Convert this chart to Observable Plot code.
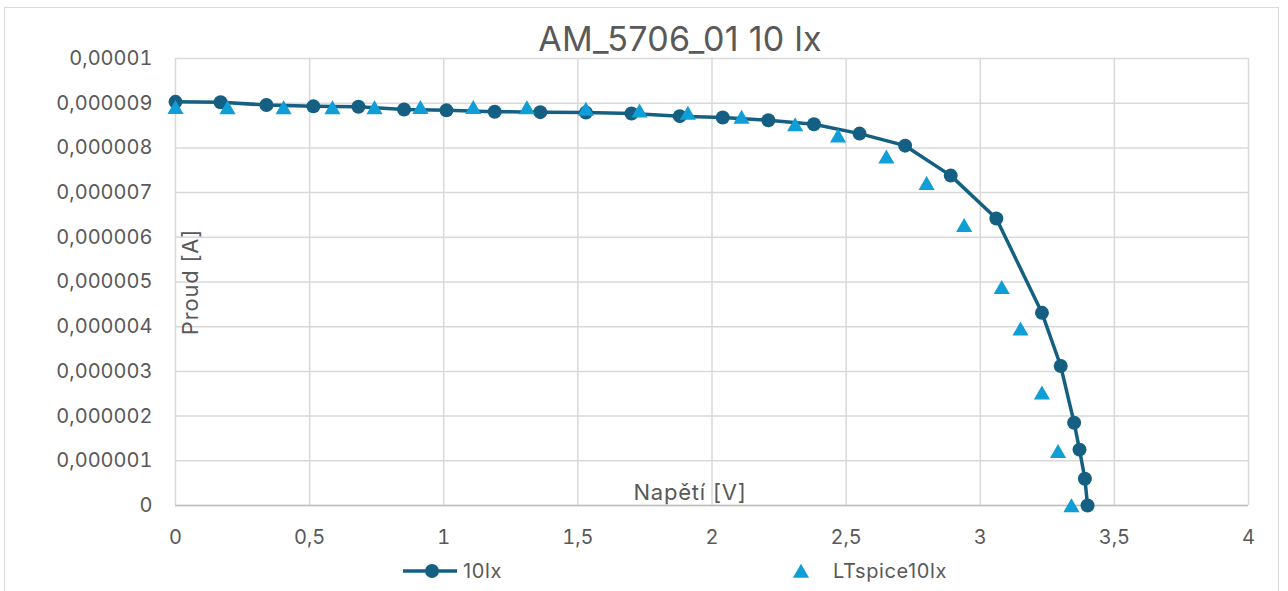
<!DOCTYPE html>
<html>
<head>
<meta charset="utf-8">
<script src="https://cdn.jsdelivr.net/npm/d3@7"></script>
<script src="https://cdn.jsdelivr.net/npm/@observablehq/plot@0.6"></script>
<style>
  html, body { margin: 0; padding: 0; background: #fff; }
  #chart { position: relative; width: 1288px; height: 591px; overflow: hidden; background: #fff;
           font-family: Inter, "Open Sans", sans-serif; color: #595959; }
  #frame { position: absolute; left: 4px; top: 7px; width: 1273px; height: 620px; border: 1.5px solid #d9d9d9; }
  #title { position: absolute; left: 680px; top: 22px; transform: translateX(-50%); font-size: 34px; line-height: 34px; white-space: nowrap; letter-spacing: 0.3px; }
  #plot { position: absolute; left: 0; top: 40px; }
  .leg { position: absolute; top: 558px; height: 26px; display: flex; align-items: center; font-size: 20px; letter-spacing: 0.6px; white-space: nowrap; }
</style>
</head>
<body>
<div id="chart">
  <div id="frame"></div>
  <div id="title"></div>
  <div id="plot"></div>
  <div class="leg" id="leg1"></div>
  <div class="leg" id="leg2"></div>
</div>
<script>
// ---- data ----
const chartTitle = "AM_5706_01 10 lx";
const xLabel = "Napětí [V]";
const yLabel = "Proud [A]";
const seriesNames = ["10lx", "LTspice10lx"];

// measured series "10lx": voltage [V], current [A]
const voltage10lx = [0, 0.168, 0.339, 0.514, 0.682, 0.852, 1.01, 1.19, 1.36, 1.53, 1.70, 1.88, 2.04, 2.21, 2.38, 2.55, 2.72, 2.89, 3.06, 3.23, 3.30, 3.35, 3.37, 3.39, 3.40];
const current10lx = [9.03e-6, 9.02e-6, 8.96e-6, 8.93e-6, 8.92e-6, 8.86e-6, 8.84e-6, 8.81e-6, 8.80e-6, 8.79e-6, 8.77e-6, 8.71e-6, 8.68e-6, 8.62e-6, 8.53e-6, 8.32e-6, 8.05e-6, 7.38e-6, 6.42e-6, 4.31e-6, 3.12e-6, 1.85e-6, 1.25e-6, 0.60e-6, 0];

// simulated series "LTspice10lx"
const voltageLT = [0, 0.194, 0.403, 0.585, 0.742, 0.913, 1.11, 1.31, 1.53, 1.73, 1.91, 2.11, 2.31, 2.47, 2.65, 2.80, 2.94, 3.08, 3.15, 3.23, 3.29, 3.34];
const currentLT = [8.91e-6, 8.90e-6, 8.90e-6, 8.90e-6, 8.90e-6, 8.91e-6, 8.91e-6, 8.90e-6, 8.87e-6, 8.83e-6, 8.78e-6, 8.69e-6, 8.52e-6, 8.27e-6, 7.80e-6, 7.21e-6, 6.27e-6, 4.88e-6, 3.95e-6, 2.52e-6, 1.21e-6, 0];

// tick values
const xTicks = [0, 0.5, 1, 1.5, 2, 2.5, 3, 3.5, 4];
const yTicks = [0, 1e-6, 2e-6, 3e-6, 4e-6, 5e-6, 6e-6, 7e-6, 8e-6, 9e-6, 1e-5];

// ---- build ----
const colMeas = "#156082";
const colLT = "#0F9ED5";
const measured = voltage10lx.map((v, i) => ({v, i: current10lx[i]}));
const simulated = voltageLT.map((v, i) => ({v, i: currentLT[i]}));

const czFmt = (d, digits) => {
  let s = d.toFixed(digits);
  if (s.includes(".")) s = s.replace(/0+$/, "").replace(/\.$/, "");
  return s.replace(".", ",");
};

document.getElementById("title").textContent = chartTitle;

const fontFamily = "Inter, 'Open Sans', sans-serif";
const plot = Plot.plot({
  width: 1288,
  height: 520,
  marginLeft: 175,
  marginRight: 40,
  marginTop: 18,
  marginBottom: 55,
  style: { fontFamily, fontSize: "20px", color: "#595959", background: "transparent", overflow: "visible" },
  x: { domain: [0, 4], label: null },
  y: { domain: [0, 1e-5], label: null },
  marks: [
    Plot.gridX(xTicks, { stroke: "#d9d9d9", strokeOpacity: 1, strokeWidth: 1.5 }),
    Plot.gridY(yTicks, { stroke: "#d9d9d9", strokeOpacity: 1, strokeWidth: 1.5 }),
    Plot.ruleY([0], { stroke: "#bfbfbf", strokeWidth: 1.5 }),
    Plot.axisX(xTicks, { tickSize: 0, tickPadding: 24, tickFormat: d => czFmt(d, 2), fontSize: 20, fill: "#595959", label: null }),
    Plot.axisY(yTicks, { tickSize: 0, tickPadding: 23, tickFormat: d => czFmt(d, 6), fontSize: 20, fill: "#595959", label: null }),
    Plot.text([yLabel], { text: d => d, frameAnchor: "left", textAnchor: "middle", lineAnchor: "middle", dx: 15, rotate: -90, fontSize: 22, fill: "#595959", style: "letter-spacing:0.6px" }),
    Plot.text([xLabel], { text: d => d, frameAnchor: "bottom", dx: -22, dy: -6, fontSize: 22, fill: "#595959" }),
    Plot.line(measured, { x: "v", y: "i", stroke: colMeas, strokeWidth: 3.5 }),
    Plot.dot(measured, { x: "v", y: "i", r: 7, fill: colMeas, stroke: "none" }),
    Plot.dot(simulated, { x: "v", y: "i", symbol: "triangle", r: 6, fill: colLT, stroke: "none", dy: 2 })
  ]
});
// slight letter spacing on axis titles, as in the reference
plot.querySelectorAll("text").forEach(t => {
  if (t.textContent === xLabel || t.textContent === yLabel) t.setAttribute("letter-spacing", "0.8");
});
document.getElementById("plot").appendChild(plot);

// legend
const leg1 = document.getElementById("leg1");
leg1.style.left = "402px";
leg1.innerHTML = `<svg width="56" height="26"><line x1="1" y1="13" x2="55" y2="13" stroke="${colMeas}" stroke-width="3.5"/><circle cx="30" cy="13" r="7" fill="${colMeas}"/></svg><span style="margin-left:5px">${seriesNames[0]}</span>`;
const leg2 = document.getElementById("leg2");
leg2.style.left = "792px";
const tri = d3.symbol(d3.symbolTriangle, Math.PI * 36)();
leg2.innerHTML = `<svg width="20" height="26"><path d="${tri}" transform="translate(9,15)" fill="${colLT}"/></svg><span style="margin-left:21px">${seriesNames[1]}</span>`;
</script>
</body>
</html>
